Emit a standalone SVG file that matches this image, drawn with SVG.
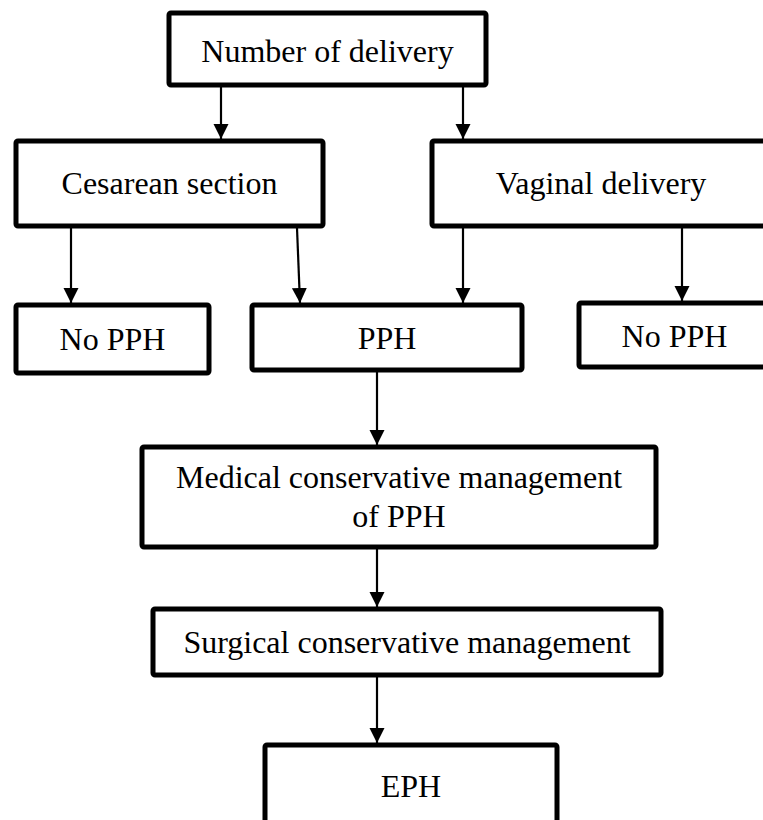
<svg xmlns="http://www.w3.org/2000/svg" width="763" height="820" viewBox="0 0 763 820">
  <defs>
    <style>
      .box { fill: #ffffff; stroke: #000000; stroke-width: 5; }
      .lbl { font-family: "Liberation Serif", "Times New Roman", serif; font-size: 32px; fill: #000000; text-anchor: middle; }
      .edge { stroke: #000000; stroke-width: 2.2; fill: none; marker-end: url(#arrow); }
    </style>
    <marker id="arrow" markerUnits="userSpaceOnUse" markerWidth="16" markerHeight="16" viewBox="0 0 16 16" refX="15" refY="8" orient="auto">
      <path d="M0,0.5 L15,8 L0,15.5 Z" fill="#000000"/>
    </marker>
  </defs>
  <rect width="763" height="820" fill="#ffffff"/>

  <g id="connectors">
    <line class="edge" x1="221" y1="87" x2="221" y2="139"/>
    <line class="edge" x1="463" y1="87" x2="463" y2="139"/>
    <line class="edge" x1="71" y1="228" x2="71" y2="303"/>
    <line class="edge" x1="297" y1="228" x2="300" y2="303"/>
    <line class="edge" x1="463" y1="228" x2="463" y2="303"/>
    <line class="edge" x1="682" y1="228" x2="682" y2="301"/>
    <line class="edge" x1="377" y1="372" x2="377" y2="445"/>
    <line class="edge" x1="377" y1="549" x2="377" y2="607"/>
    <line class="edge" x1="377" y1="677" x2="377" y2="743"/>
  </g>

  <g id="n-number">
    <rect class="box" x="169" y="13" width="317" height="72" rx="2"/>
    <text class="lbl" x="327.5" y="62">Number of delivery</text>
  </g>
  <g id="n-cesarean">
    <rect class="box" x="16" y="141" width="307" height="85" rx="2"/>
    <text class="lbl" x="169.5" y="194">Cesarean section</text>
  </g>
  <g id="n-vaginal">
    <rect class="box" x="432" y="141" width="340" height="85" rx="2"/>
    <text class="lbl" x="601" y="194">Vaginal delivery</text>
  </g>
  <g id="n-nopph-left">
    <rect class="box" x="16" y="305" width="193" height="68" rx="2"/>
    <text class="lbl" x="112.5" y="350">No PPH</text>
  </g>
  <g id="n-pph">
    <rect class="box" x="252" y="305" width="270" height="65" rx="2"/>
    <text class="lbl" x="387" y="349">PPH</text>
  </g>
  <g id="n-nopph-right">
    <rect class="box" x="579" y="303" width="192" height="64" rx="2"/>
    <text class="lbl" x="674.5" y="347">No PPH</text>
  </g>
  <g id="n-medical">
    <rect class="box" x="142" y="447" width="514" height="100" rx="2"/>
    <text class="lbl" x="399" y="488">Medical conservative management</text>
    <text class="lbl" x="399" y="527">of PPH</text>
  </g>
  <g id="n-surgical">
    <rect class="box" x="153" y="609" width="508" height="66" rx="2"/>
    <text class="lbl" x="407" y="653">Surgical conservative management</text>
  </g>
  <g id="n-eph">
    <rect class="box" x="265" y="745" width="292" height="90" rx="2"/>
    <text class="lbl" x="411" y="797">EPH</text>
  </g>
</svg>
